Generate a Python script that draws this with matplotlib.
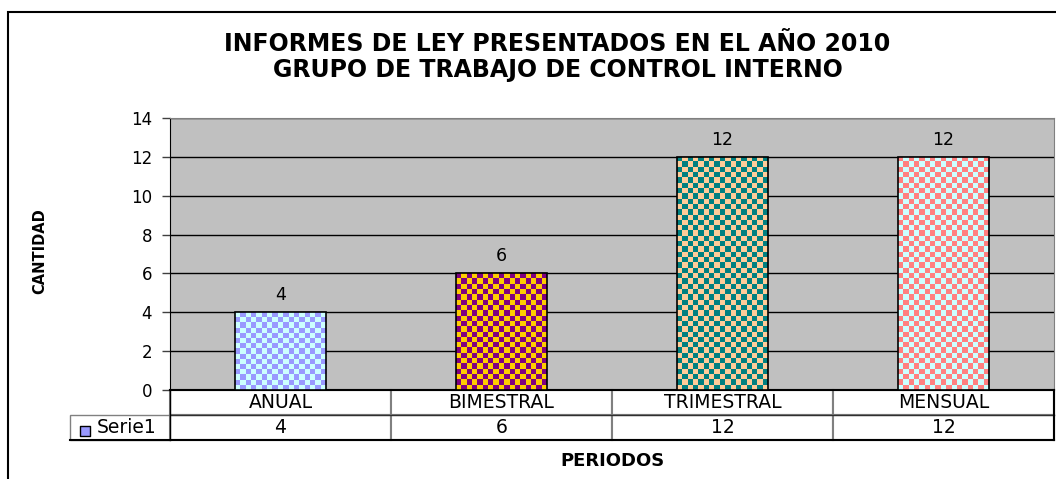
import numpy as np
import matplotlib
matplotlib.use("Agg")
import matplotlib.pyplot as plt
from matplotlib.colors import ListedColormap
from matplotlib.patches import Rectangle

plt.rcParams["font.family"] = ["DejaVu Sans"]

# Data
periodos = ["ANUAL", "BIMESTRAL", "TRIMESTRAL", "MENSUAL"]
cantidad = [4, 6, 12, 12]
serie = "Serie1"
y_ticks = [0, 2, 4, 6, 8, 10, 12, 14]

# checkerboard colours (base, check) per bar
fondo = ["#CCFFFF", "#FFCC00", "#FFCC99", "#CCFFFF"]
cuadro = ["#9999FF", "#800080", "#008080", "#FF8080"]

W, H = 1056, 479
fig = plt.figure(figsize=(W / 100, H / 100), dpi=100)
ax = fig.add_axes([170 / W, 1 - 390 / H, (1054 - 170) / W, (390 - 118) / H])
ax.set_facecolor("#C0C0C0")

# outer chart frame (only left and top edges visible)
fig.patches.append(Rectangle((8 / W, -0.2), 1.2, 1.2 - 12 / H, transform=fig.transFigure,
                             fill=False, edgecolor="black", linewidth=1.5))

x = np.arange(len(periodos))
ancho = 0.41
bars = ax.bar(x, cantidad, width=ancho, color=fondo, edgecolor="none", zorder=3)
ax.set_xlim(-0.5, len(periodos) - 0.5)
ax.set_ylim(0, 14)

# checker fill clipped to each bar
lado = 5.3  # pixel size of one square
for b, c0, c1 in zip(bars, fondo, cuadro):
    x0, x1 = b.get_x(), b.get_x() + b.get_width()
    p0 = ax.transData.transform((x0, 0))
    p1 = ax.transData.transform((x1, b.get_height()))
    nx = max(1, int(round((p1[0] - p0[0]) / lado)))
    ny = max(1, int(round((p1[1] - p0[1]) / lado)))
    ii, jj = np.indices((ny, nx))
    img = ax.imshow((ii + jj) % 2, extent=(x0, x1, 0, b.get_height()), origin="lower",
                    cmap=ListedColormap([c0, c1]), interpolation="nearest",
                    aspect="auto", zorder=3.5)
    img.set_clip_path(b)

ax.bar(x, cantidad, width=ancho, fill=False, edgecolor="black", linewidth=1.2, zorder=4)
ax.set_xlim(-0.5, len(periodos) - 0.5)
ax.set_ylim(0, 14)
ax.bar_label(bars, labels=[str(v) for v in cantidad], padding=6, fontsize=12.5)

ax.set_yticks(y_ticks)
ax.tick_params(axis="y", labelsize=12, length=6, width=1, color="#404040", pad=7)
ax.set_xticks([])
ax.yaxis.grid(True, color="black", linewidth=1)
ax.set_axisbelow(True)
for s in ["top", "right"]:
    ax.spines[s].set_color("#808080")
ax.spines["left"].set_color("black")
ax.spines["bottom"].set_color("black")
ax.spines["bottom"].set_linewidth(1.5)

# data table under the plot (first column holds the legend)
fila = 100 / 884
alto = 25 / 272
tabla = ax.table(cellText=[[""] + periodos, [serie] + [str(v) for v in cantidad]],
                 cellLoc="center",
                 colWidths=[fila] + [1 / len(periodos)] * len(periodos),
                 bbox=[-fila, -2 * alto, 1 + fila, 2 * alto])
tabla.auto_set_font_size(False)
for (r, c), cell in tabla.get_celld().items():
    cell.set_edgecolor("#808080")
    cell.set_linewidth(1.5)
    cell.get_text().set_fontsize(13.5)
    if c == 0:
        cell.set_linewidth(1)
        if r == 0:
            cell.visible_edges = "open"
        else:
            cell.PAD = 0.27
            cell.get_text().set_horizontalalignment("left")
            cell._loc = "left"

# darker table rules
kw = dict(transform=ax.transAxes, clip_on=False, zorder=6)
ax.plot([-fila, 1], [-2 * alto, -2 * alto], color="black", linewidth=1.5, **kw)
ax.plot([0, 1], [-alto, -alto], color="#303030", linewidth=1, **kw)
ax.plot([0, 0], [-2 * alto, 0], color="black", linewidth=1, **kw)
ax.plot([1, 1], [-2 * alto, 0], color="black", linewidth=1.5, **kw)

# legend key in the table
ax.scatter([-(170 - 85) / 884], [-(431 - 390) / 272], marker="s", s=55,
           color=cuadro[0], edgecolor="black", linewidth=1,
           transform=ax.transAxes, clip_on=False, zorder=10)

fig.text(0.528, 1 - 57 / H, "INFORMES DE LEY PRESENTADOS EN EL AÑO 2010\nGRUPO DE TRABAJO DE CONTROL INTERNO",
         ha="center", va="center", fontsize=17, fontweight="bold", linespacing=1.15)
fig.text(612 / W, 1 - 461 / H, "PERIODOS", ha="center", va="center",
         fontsize=13, fontweight="bold")
fig.text(40 / W, 1 - 251 / H, "CANTIDAD", ha="center", va="center", rotation=90,
         fontsize=10.5, fontweight="bold")

fig.savefig("out.png", dpi=100)
